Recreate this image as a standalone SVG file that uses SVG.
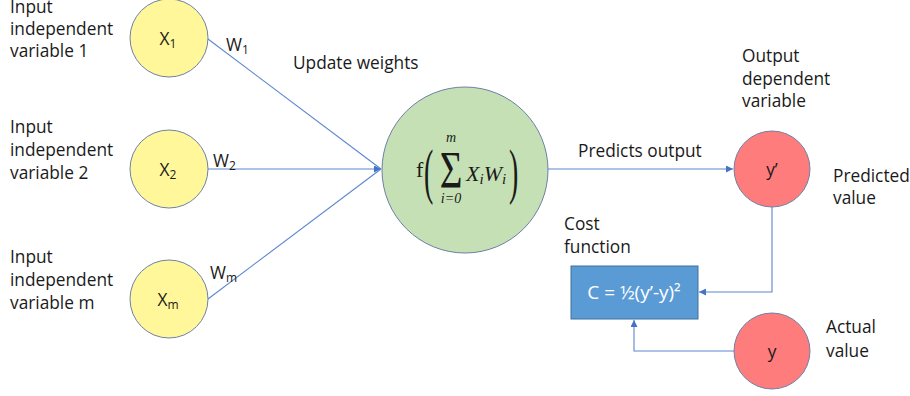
<svg xmlns="http://www.w3.org/2000/svg" width="910" height="396" viewBox="0 0 910 396">
<style>
  text { font-family: "Open Sans", "Liberation Sans", sans-serif; fill: #1a1a1a; }
  .lbl { font-size: 17.3px; }
  .sub { font-size: 12px; }
  .math { font-family: "Liberation Serif", "DejaVu Serif", serif; }
  .conn { stroke: #5B86D0; stroke-width: 1.1; fill: none; }
  .in { fill: #FFF799; stroke: #6E80A6; stroke-width: 1; }
  .out { fill: #FF7C7C; stroke: #6E80A6; stroke-width: 1; }
  .sum { fill: #C5E0B4; stroke: #6E80A6; stroke-width: 1; }
</style>
<defs>
  <marker id="arr" viewBox="0 0 10 10" refX="10" refY="5" markerWidth="7" markerHeight="7" markerUnits="userSpaceOnUse" orient="auto">
    <path d="M0,0 L10,5 L0,10 z" fill="#4472C4"/>
  </marker>
</defs>
<rect width="910" height="396" fill="#ffffff"/>

<g id="connectors">
  <line class="conn" x1="208" y1="39" x2="381" y2="169"/>
  <line class="conn" x1="208" y1="169" x2="381" y2="169" marker-end="url(#arr)"/>
  <line class="conn" x1="208" y1="299" x2="381" y2="169"/>
  <line class="conn" x1="548" y1="169" x2="733" y2="169" marker-end="url(#arr)"/>
  <polyline class="conn" points="772,207 772,292 699,292" marker-end="url(#arr)"/>
  <polyline class="conn" points="734,351 634,351 634,320" marker-end="url(#arr)"/>
</g>

<g id="labels-left">
  <text class="lbl" x="10" y="13">Input</text>
  <text class="lbl" x="10" y="35">independent</text>
  <text class="lbl" x="10" y="57">variable 1</text>
  <text class="lbl" x="10" y="133">Input</text>
  <text class="lbl" x="10" y="156">independent</text>
  <text class="lbl" x="10" y="179">variable 2</text>
  <text class="lbl" x="10" y="263">Input</text>
  <text class="lbl" x="10" y="286">independent</text>
  <text class="lbl" x="10" y="309">variable m</text>
</g>

<g id="node-x1">
  <circle class="in" cx="169" cy="38" r="39"/>
  <text class="lbl" x="168" y="45" text-anchor="middle">X<tspan class="sub" dy="3">1</tspan></text>
</g>
<g id="node-x2">
  <circle class="in" cx="169" cy="169" r="39"/>
  <text class="lbl" x="168" y="176" text-anchor="middle">X<tspan class="sub" dy="3">2</tspan></text>
</g>
<g id="node-xm">
  <circle class="in" cx="169" cy="299" r="39"/>
  <text class="lbl" x="168" y="306" text-anchor="middle">X<tspan class="sub" dy="3">m</tspan></text>
</g>

<g id="weights">
  <text class="lbl" x="226" y="51">W<tspan class="sub" dy="3">1</tspan></text>
  <text class="lbl" x="213" y="167">W<tspan class="sub" dy="3">2</tspan></text>
  <text class="lbl" x="210" y="279">W<tspan class="sub" dy="3">m</tspan></text>
  <text class="lbl" x="293" y="69">Update weights</text>
</g>

<g id="node-sum">
  <circle class="sum" cx="465" cy="170" r="83"/>
  <text class="math" x="416" y="177" font-size="22">f</text>
  <text class="math" transform="translate(424,192) scale(0.45,1)" font-size="62">(</text>
  <text class="math" transform="translate(451,188) scale(0.75,1)" font-size="52" text-anchor="middle">Σ</text>
  <text class="math" x="451" y="142" font-size="14" font-style="italic" text-anchor="middle">m</text>
  <text class="math" x="451" y="203" font-size="14" font-style="italic" text-anchor="middle">i=0</text>
  <text class="math" x="466" y="181" font-size="22" font-style="italic">X<tspan font-size="15" dy="3">i</tspan><tspan dy="-3">W</tspan><tspan font-size="15" dy="3">i</tspan></text>
  <text class="math" transform="translate(509,192) scale(0.45,1)" font-size="62">)</text>
</g>

<g id="node-ypred">
  <circle class="out" cx="772" cy="169" r="38"/>
  <text class="lbl" x="772" y="176" text-anchor="middle">y’</text>
</g>
<g id="labels-right">
  <text class="lbl" x="578" y="157">Predicts output</text>
  <text class="lbl" x="742" y="62">Output</text>
  <text class="lbl" x="742" y="85">dependent</text>
  <text class="lbl" x="742" y="107">variable</text>
  <text class="lbl" x="833" y="182">Predicted</text>
  <text class="lbl" x="833" y="204">value</text>
  <text class="lbl" x="564" y="230">Cost</text>
  <text class="lbl" x="564" y="253">function</text>
  <text class="lbl" x="826" y="333">Actual</text>
  <text class="lbl" x="826" y="357">value</text>
</g>

<g id="node-cost">
  <rect x="571" y="266" width="127" height="53" fill="#5B9BD5" stroke="#41719C" stroke-width="1"/>
  <text x="634" y="299" text-anchor="middle" font-size="19" style="fill:#ffffff">C = ½(y’-y)²</text>
</g>

<g id="node-y">
  <circle class="out" cx="772" cy="351" r="38"/>
  <text class="lbl" x="772" y="358" text-anchor="middle">y</text>
</g>
</svg>
